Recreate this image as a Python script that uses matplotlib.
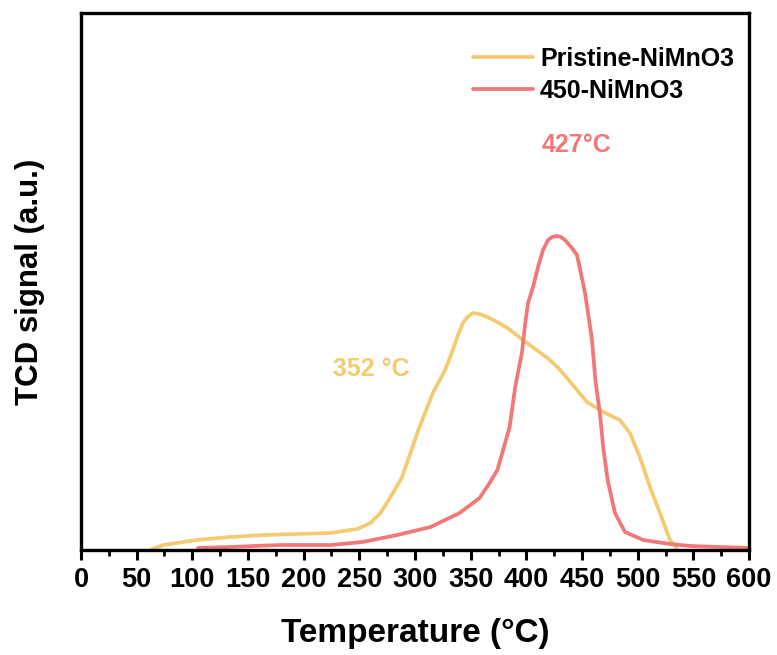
import matplotlib
matplotlib.use('Agg')
import matplotlib.pyplot as plt
from matplotlib.ticker import MultipleLocator

plt.rcParams['font.family'] = ['Liberation Sans', 'DejaVu Sans']
plt.rcParams['font.weight'] = 'bold'

YELLOW = '#F2CB73'
RED = '#F27878'

# TPR profiles, temperature (degC) vs TCD signal (a.u.)
pristine_t = [62, 74, 104, 134, 164, 194, 224, 248, 260, 269, 278, 288, 296,
              302, 309, 316, 327, 333, 338, 343, 347, 352, 358, 365, 374, 383,
              397, 408, 419, 428, 436.5, 454.5, 469, 484, 493, 502, 511, 520,
              529, 535]
pristine_v = [0, 5, 10, 13, 15, 16, 17, 21, 27, 37, 53, 72, 97,
              117, 137, 157, 180, 197, 213, 227, 233, 237, 236, 233, 228, 222,
              210, 201, 192, 183, 172, 148, 138, 130, 117, 93, 63, 37,
              10, 2]

calc450_t = [105, 134, 179, 224, 253, 284, 314, 340, 358, 367, 374, 385, 390,
             396, 399, 401.5, 406, 410.5, 415, 419.5, 423, 427.6, 431, 434.7,
             441, 445.5, 448, 452.7, 455.4, 459, 460.5, 462, 466, 469, 473,
             479.6, 488.6, 505, 529, 547, 600]
calc450_v = [2, 3, 5, 5, 8, 15, 23, 37, 52, 67, 80, 123, 163,
             197, 227, 247, 263, 283, 300, 310, 313, 314, 313, 310,
             302, 295, 282, 257, 237, 210, 190, 170, 137, 103, 70,
             37, 18, 10, 6, 4, 2]

fig = plt.figure(figsize=(7.77, 6.55), dpi=100)
ax = fig.add_axes([0.1042, 0.1603, 0.8598, 0.8198])

ax.plot(pristine_t, pristine_v, color=YELLOW, lw=2.7, label='Pristine-NiMnO3',
        solid_capstyle='round', solid_joinstyle='round')
ax.plot(calc450_t, calc450_v, color=RED, lw=2.7, label='450-NiMnO3',
        solid_capstyle='round', solid_joinstyle='round')

ax.text(261, 181, '352 °C', color=YELLOW, fontsize=18, fontweight='bold',
        ha='center', va='center')
ax.text(445, 405, '427°C', color=RED, fontsize=18, fontweight='bold',
        ha='center', va='center')

ax.set_xlim(0, 600)
ax.set_ylim(0, 537)
ax.xaxis.set_major_locator(MultipleLocator(50))
ax.xaxis.set_minor_locator(MultipleLocator(25))
ax.set_yticks([])
ax.tick_params(axis='x', which='major', direction='out', length=7, width=2.2,
               labelsize=19.5, pad=5)
ax.tick_params(axis='x', which='minor', direction='out', length=4, width=2.0)
for lbl in ax.get_xticklabels():
    lbl.set_fontweight('bold')
for sp in ax.spines.values():
    sp.set_linewidth(2.4)

ax.set_xlabel('Temperature (°C)', fontsize=24, fontweight='bold', labelpad=18)
ax.set_ylabel('TCD signal (a.u.)', fontsize=22.5, fontweight='bold', labelpad=26)

leg = ax.legend(loc='upper left', bbox_to_anchor=(0.587, 0.937), frameon=False,
                fontsize=18, handlelength=2.4, handletextpad=0.28,
                labelspacing=0.31, borderpad=0, borderaxespad=0)
for t in leg.get_texts():
    t.set_fontweight('bold')

fig.savefig('out.png', dpi=100)
